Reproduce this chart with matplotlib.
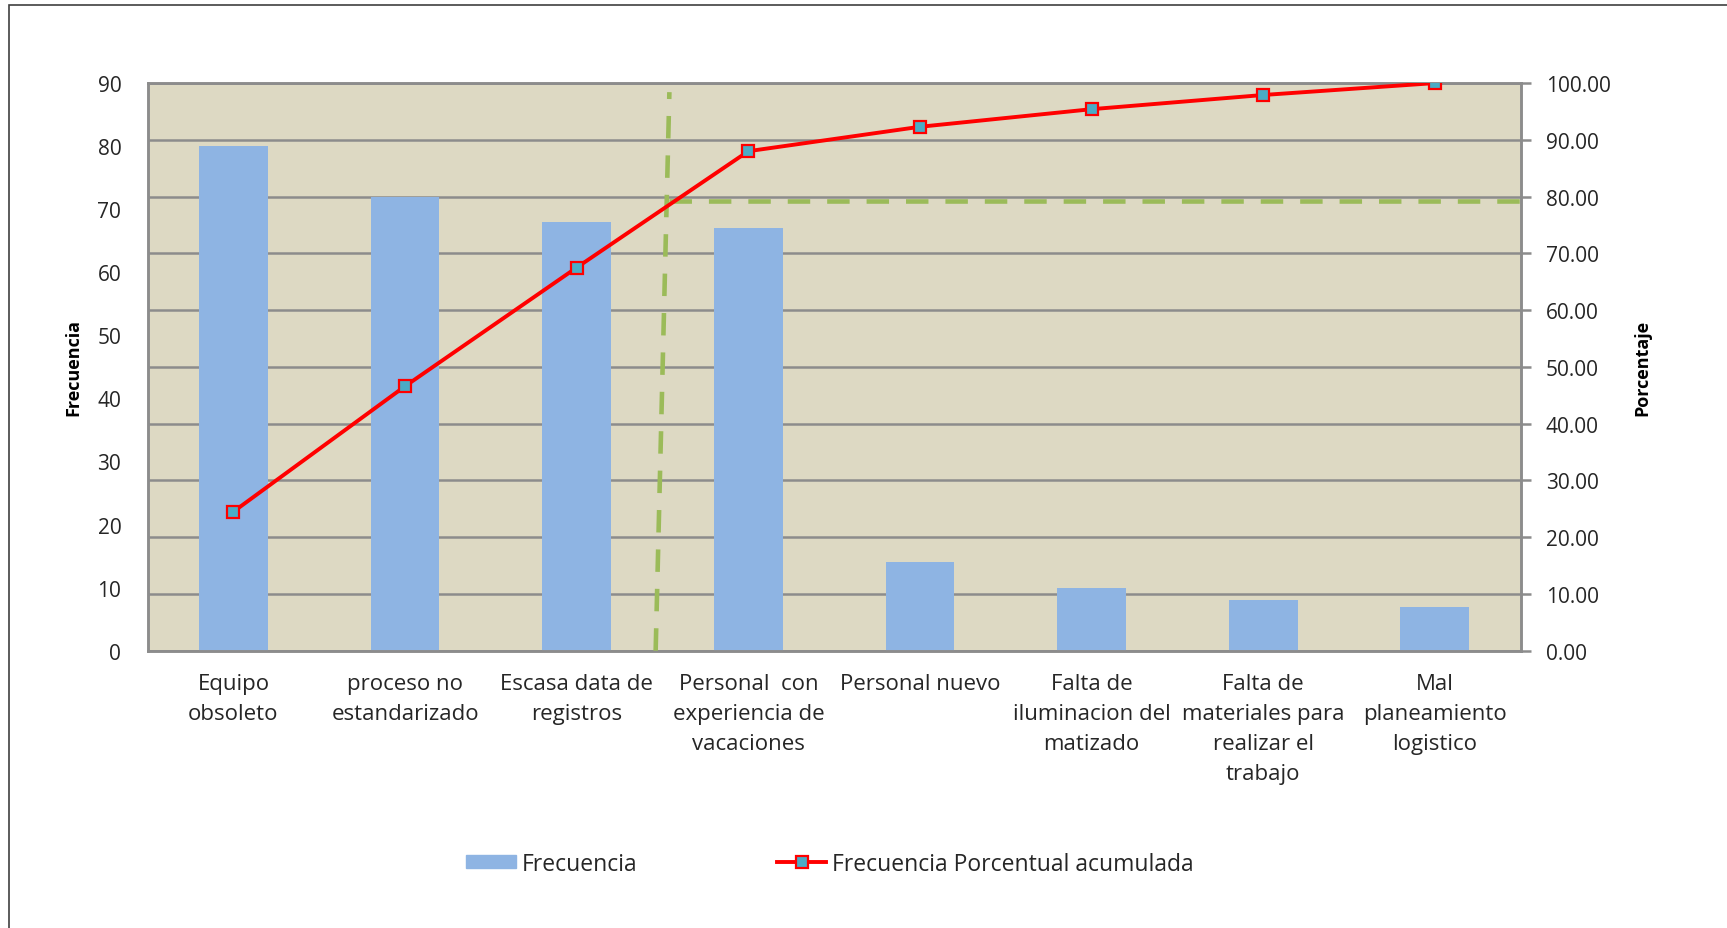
import matplotlib
matplotlib.use('Agg')
import matplotlib.pyplot as plt
from matplotlib.patches import Rectangle
from matplotlib.lines import Line2D

plt.rcParams['font.family'] = ['Open Sans', 'DejaVu Sans']

# data
causas = ['Equipo\nobsoleto', 'proceso no\nestandarizado', 'Escasa data de\nregistros',
          'Personal  con\nexperiencia de\nvacaciones', 'Personal nuevo',
          'Falta de\niluminacion del\nmatizado', 'Falta de\nmateriales para\nrealizar el\ntrabajo',
          'Mal\nplaneamiento\nlogistico']
frecuencia = [80, 72, 68, 67, 14, 10, 8, 7]
porc_acum = [24.5, 46.6, 67.5, 88.0, 92.3, 95.4, 97.9, 100.0]
left_ticks = [0, 10, 20, 30, 40, 50, 60, 70, 80, 90]
right_ticks = [0, 10, 20, 30, 40, 50, 60, 70, 80, 90, 100]
corte = 79.3  # the 80% guide, as drawn

bg = '#DDD9C3'
bar_c = '#8EB4E3'
green = '#9BBB59'
grid_c = '#8C8C8C'
txt = '#262626'

fig = plt.figure(figsize=(17.27, 9.29), dpi=100)
ax = fig.add_axes([0.0855, 0.2985, 0.795, 0.611])
ax.set_facecolor(bg)

x = list(range(len(causas)))
ax.bar(x, frecuencia, width=0.4, color=bar_c, zorder=2, label='Frecuencia')
ax.set_xlim(-0.5, len(causas) - 0.5)
ax.set_ylim(0, 90)
# gridlines follow the percentage axis
for p in right_ticks:
    ax.axhline(p * 0.9, color=grid_c, lw=1.8, zorder=1)
ax.set_yticks(left_ticks)
ax.set_xticks(x)
ax.set_xticklabels(causas, fontsize=16, color=txt, linespacing=1.56)
ax.tick_params(axis='y', length=0, labelsize=15, labelcolor=txt, pad=19)
ax.tick_params(axis='x', length=0, labelcolor=txt, pad=16)
ax.set_ylabel('Frecuencia', fontsize=13, fontweight='bold', va='center')
ax.yaxis.set_label_coords(-0.0543, 0.5)
for s in ax.spines.values():
    s.set_color(grid_c)
    s.set_linewidth(1.8)

ax2 = ax.twinx()
ax2.set_ylim(0, 100)
ax2.set_yticks(right_ticks)
ax2.set_yticklabels(['%.2f' % t for t in right_ticks])
ax2.tick_params(axis='y', length=7, width=1.8, color=grid_c, labelsize=15, labelcolor=txt, pad=11)
for s in ax2.spines.values():
    s.set_color(grid_c)
    s.set_linewidth(1.8)
ax2.set_ylabel('Porcentaje', fontsize=13, fontweight='bold', rotation=90, va='center')
ax2.yaxis.set_label_coords(1.0888, 0.5)

# 80/20 dashed guides
ax2.plot([2.46, 2.54], [0, 98.4], color=green, lw=3.3, ls=(0, (4.9, 3.7)), zorder=3, clip_on=False)
ax2.plot([2.54, 7.54], [corte, corte], color=green, lw=3.3, ls=(0, (4.9, 3.7)), zorder=3, clip_on=False)

ax2.plot(x, porc_acum, color='#FF0000', lw=2.8, marker='s', markersize=8,
         markerfacecolor='#4BACC6', markeredgecolor='#FF0000', markeredgewidth=1.6, zorder=4,
         label='Frecuencia Porcentual acumulada')

h_bar = Rectangle((0, 0), 1, 1, color=bar_c)
h_line = Line2D([], [], color='#FF0000', lw=2.8, marker='s', markersize=8,
                markerfacecolor='#4BACC6', markeredgecolor='#FF0000', markeredgewidth=1.6)
fig.legend([h_bar, h_line], ['Frecuencia', 'Frecuencia Porcentual acumulada'],
           loc='center', bbox_to_anchor=(0.4806, 0.0693), ncol=2, frameon=False,
           fontsize=16.5, columnspacing=6.1, handlelength=2.16, handletextpad=0.25,
           handleheight=0.55, labelcolor=txt)

# outer chart border
fig.patches.append(Rectangle((9 / 1727, -0.01), 1.05, 1 - 5.5 / 929 + 0.01,
                             transform=fig.transFigure, fill=False,
                             edgecolor='#404040', lw=1.2))

fig.savefig('out.png', dpi=100)
